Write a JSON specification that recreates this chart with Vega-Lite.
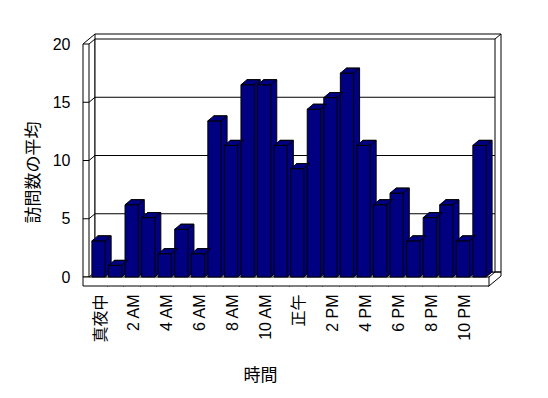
{
  "$schema": "https://vega.github.io/schema/vega-lite/v6.json",
  "width": 400,
  "height": 233,
  "autosize": {"type": "none"},
  "padding": {"left": 89, "top": 44, "right": 59, "bottom": 121},
  "background": "white",
  "config": {
    "view": {"stroke": null},
    "axis": {"labelFont": "Liberation Sans, Noto Sans CJK JP", "titleFont": "Noto Sans CJK JP", "labelColor": "black", "titleColor": "black", "titleFontWeight": "normal"}
  },
  "layer": [
    {
      "data": {"values": [{}]},
      "mark": {"type": "rect", "fill": "white", "stroke": "black", "strokeWidth": 1, "xOffset": 6, "x2Offset": 12, "yOffset": -10, "y2Offset": -5},
      "encoding": {"x": {"value": 0}, "x2": {"value": "width"}, "y": {"datum": 20}, "y2": {"datum": 0}}
    },
    {
      "data": {"values": [{}]},
      "mark": {"type": "rect", "fill": "white", "stroke": "black", "strokeWidth": 1, "xOffset": 6, "x2Offset": 6, "yOffset": -5, "y2Offset": -5},
      "encoding": {"x": {"value": 0}, "x2": {"value": "width"}, "y": {"datum": 20}, "y2": {"datum": 0}}
    },
    {
      "data": {"values": [{}]},
      "mark": {"type": "point", "shape": "M6,-5 L12,-10", "size": 4, "filled": false, "stroke": "black", "strokeWidth": 1, "opacity": 1},
      "encoding": {"x": {"value": "width"}, "y": {"datum": 20}}
    },
    {
      "data": {"values": [{"v": 5}, {"v": 10}, {"v": 15}]},
      "mark": {"type": "rule", "stroke": "black", "strokeWidth": 1, "xOffset": 6, "x2Offset": 6, "yOffset": -5},
      "encoding": {"x": {"value": 0}, "x2": {"value": "width"}, "y": {"field": "v", "type": "quantitative"}}
    },
    {
      "data": {"values": [{}]},
      "mark": {"type": "rect", "fill": "white", "stroke": "black", "strokeWidth": 1, "xOffset": -6, "x2Offset": 0},
      "encoding": {"x": {"value": 0}, "x2": {"value": 0}, "y": {"datum": 20}, "y2": {"datum": 0}}
    },
    {
      "data": {"values": [{"v": 5}, {"v": 10}, {"v": 15}]},
      "mark": {"type": "point", "shape": "M-6,0 L0,0 L6,-5", "size": 4, "filled": false, "stroke": "black", "strokeWidth": 1, "opacity": 1},
      "encoding": {"x": {"value": 0}, "y": {"field": "v", "type": "quantitative"}}
    },
    {
      "data": {"values": [{}]},
      "mark": {"type": "rect", "fill": "white", "stroke": "black", "strokeWidth": 1, "xOffset": -6, "y2Offset": 9},
      "encoding": {"x": {"value": 0}, "x2": {"value": "width"}, "y": {"datum": 0}, "y2": {"datum": 0}}
    },
    {
      "data": {"values": [{}]},
      "mark": {"type": "point", "shape": "M-6,0 L6,-10 M0,0 L6,-5", "size": 4, "filled": false, "stroke": "black", "strokeWidth": 1, "opacity": 1},
      "encoding": {"x": {"value": 0}, "y": {"datum": 20}}
    },
    {
      "data": {"values": [{}]},
      "mark": {"type": "point", "shape": "M0,0 L6,-5", "size": 4, "filled": false, "stroke": "black", "strokeWidth": 1, "opacity": 1},
      "encoding": {"x": {"value": 0}, "y": {"datum": 0}}
    },
    {
      "data": {"values": [{}]},
      "mark": {"type": "point", "shape": "M0,0 L6,-5 M0,9 L12,-1 L12,-5 L6,-5", "size": 4, "filled": false, "stroke": "black", "strokeWidth": 1, "opacity": 1},
      "encoding": {"x": {"value": "width"}, "y": {"datum": 0}}
    },
    {
      "data": {
        "values": [
          {"hour": 0, "value": 3.1}, {"hour": 1, "value": 1.0}, {"hour": 2, "value": 6.2}, {"hour": 3, "value": 5.1},
          {"hour": 4, "value": 2.0}, {"hour": 5, "value": 4.1}, {"hour": 6, "value": 2.0}, {"hour": 7, "value": 13.4},
          {"hour": 8, "value": 11.3}, {"hour": 9, "value": 16.5}, {"hour": 10, "value": 16.5}, {"hour": 11, "value": 11.3},
          {"hour": 12, "value": 9.3}, {"hour": 13, "value": 14.4}, {"hour": 14, "value": 15.4}, {"hour": 15, "value": 17.5},
          {"hour": 16, "value": 11.3}, {"hour": 17, "value": 6.2}, {"hour": 18, "value": 7.2}, {"hour": 19, "value": 3.1},
          {"hour": 20, "value": 5.1}, {"hour": 21, "value": 6.2}, {"hour": 22, "value": 3.1}, {"hour": 23, "value": 11.3}
        ]
      },
      "encoding": {
        "x": {
          "field": "hour", "type": "ordinal", "title": "時間",
          "scale": {"paddingInner": 0.2, "paddingOuter": 0.175},
          "axis": {
            "labelExpr": "datum.value == 0 ? '真夜中' : datum.value == 12 ? '正午' : datum.value % 2 == 1 ? '' : datum.value < 12 ? datum.value + ' AM' : (datum.value - 12) + ' PM'",
            "labelAngle": 270, "labelAlign": "right", "labelBaseline": "middle", "labelPadding": 8, "labelFontSize": 16,
            "labelOverlap": false, "labelBound": false, "labelFlush": false,
            "ticks": true, "tickSize": 9, "tickColor": "black", "tickWidth": 1, "bandPosition": 1, "tickOffset": 1.66,
            "domain": false, "grid": false,
            "titleFontSize": 17, "titleX": 171, "titleY": 98, "titleBaseline": "middle", "titleAlign": "center", "titleAngle": 0
          }
        },
        "y": {
          "field": "value", "type": "quantitative", "title": "訪問数の平均",
          "scale": {"domain": [0, 20], "nice": false},
          "axis": {
            "values": [0, 5, 10, 15, 20], "ticks": false, "domain": false, "grid": false,
            "labelPadding": 19, "labelFontSize": 16,
            "titleFontSize": 17, "titleX": -56, "titleY": 128, "titleAngle": 270, "titleBaseline": "middle", "titleAlign": "center"
          }
        }
      },
      "layer": [
        {"mark": {"type": "bar", "fill": "#000080", "stroke": "black", "strokeWidth": 1, "xOffset": 6, "yOffset": -5, "y2Offset": -5}},
        {"mark": {"type": "point", "shape": "M6.625,-5.6 L6.625,0 L12.2,-4.6 L12.2,-5.6 Z", "size": 4, "filled": true, "fill": "#000080", "strokeOpacity": 0, "opacity": 1}, "encoding": {"y": {"datum": 0}}},
        {"mark": {"type": "point", "shape": "M6.625,0 L12.625,-5", "size": 4, "filled": false, "stroke": "black", "strokeWidth": 1, "opacity": 1}, "encoding": {"y": {"datum": 0}}},
        {"mark": {"type": "bar", "fill": "#000080", "stroke": "black", "strokeWidth": 1}},
        {"mark": {"type": "point", "shape": "M-6.625,0 L6.625,0 L12.625,-5 L-0.625,-5 Z", "size": 4, "filled": true, "fill": "#000080", "stroke": "black", "strokeWidth": 1, "opacity": 1}}
      ]
    }
  ]
}
